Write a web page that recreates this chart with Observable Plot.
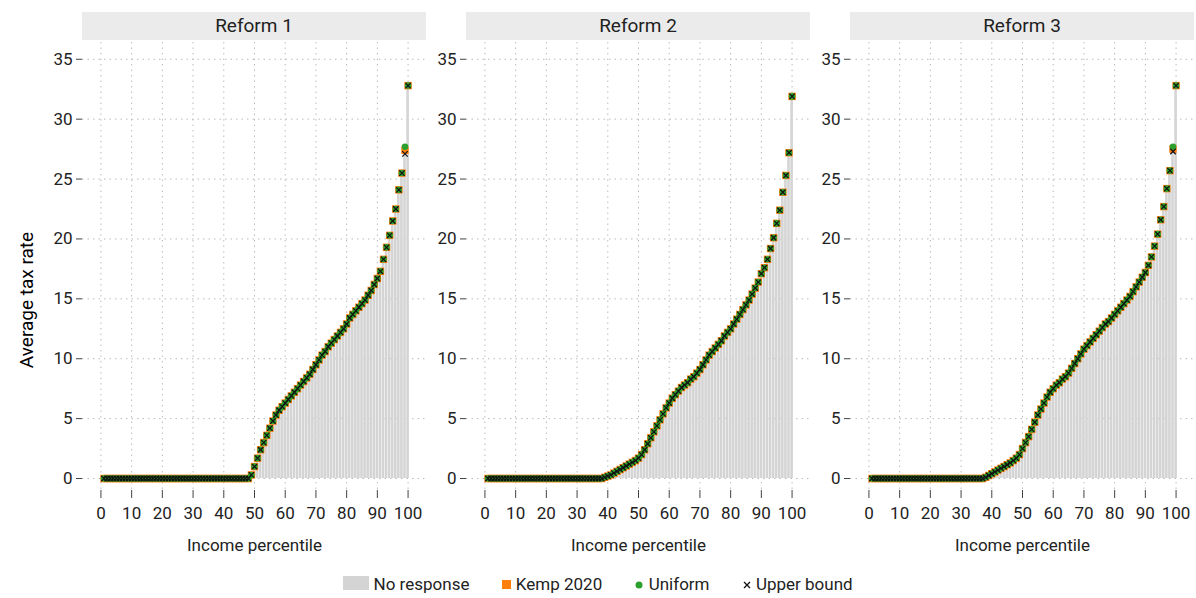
<!DOCTYPE html>
<html><head><meta charset="utf-8">
<script src="https://cdn.jsdelivr.net/npm/d3@7"></script>
<script src="https://cdn.jsdelivr.net/npm/@observablehq/plot@0.6"></script>
<style>
body{margin:0;background:#fff;font-family:"Liberation Sans Narrow","Roboto",sans-serif;}
#wrap{position:relative;width:1196px;height:598px;}
.panel{position:absolute;top:0;}
.head{position:absolute;top:12px;height:28px;background:#ebebeb;font-size:19px;text-align:center;line-height:28px;color:#222;}
#legend{position:absolute;top:574px;left:0;width:1196px;text-align:center;font-size:17px;color:#222;}
#legend span{margin:0 14px;}
.ylab{position:absolute;left:6px;top:300px;transform:translate(0,-50%) rotate(-90deg);transform-origin:center;font-size:19px;}
</style></head>
<body><div id="wrap"></div>
<script>
const reforms = ["Reform 1", "Reform 2", "Reform 3"];
const percentiles = d3.range(1, 101);

// reform 1: zero up to 48
const r1Kemp = [...Array(48).fill(0),
  0.3,1.0,1.7,2.4,3.0,3.6,4.2,4.8,5.3,5.7,6.0,6.3,6.6,6.9,7.2,7.5,7.8,8.1,8.4,8.7,
  9.1,9.5,9.9,10.3,10.6,11.0,11.3,11.6,11.9,12.2,12.5,12.9,13.4,13.7,14.0,14.3,14.6,14.9,15.3,15.7,
  16.2,16.7,17.3,18.3,19.3,20.3,21.5,22.5,24.1,25.5,27.4,32.8];
const r1Uniform = r1Kemp.map((v, i) => i === 98 ? 27.7 : v);
const r1Upper = r1Kemp.map((v, i) => i === 98 ? 27.1 : v);

// reform 2: zero up to 38
const r2Kemp = [...Array(38).fill(0),
  0.1,0.2,0.3,0.45,0.6,0.75,0.9,1.05,1.2,1.35,1.5,1.7,2.0,2.4,2.9,3.4,3.9,4.4,4.9,5.4,
  5.9,6.3,6.7,7.0,7.3,7.6,7.8,8.0,8.3,8.5,8.8,9.1,9.5,9.9,10.3,10.6,10.9,11.2,11.5,11.9,
  12.2,12.5,12.9,13.3,13.7,14.1,14.5,14.9,15.4,15.9,16.4,17.1,17.6,18.3,19.2,20.1,21.3,22.4,23.9,25.3,
  27.2,31.9];
const r2Uniform = r2Kemp;
const r2Upper = r2Kemp;

// reform 3: zero up to 37
const r3Kemp = [...Array(37).fill(0),
  0.1,0.25,0.4,0.55,0.7,0.85,1.0,1.15,1.3,1.5,1.7,2.0,2.5,3.0,3.5,4.1,4.7,5.3,5.8,6.3,
  6.8,7.2,7.5,7.8,8.0,8.3,8.5,8.8,9.2,9.6,10.0,10.4,10.8,11.1,11.4,11.7,12.0,12.3,12.6,12.9,
  13.1,13.4,13.7,14.0,14.3,14.6,14.9,15.2,15.6,16.0,16.4,16.8,17.2,17.8,18.5,19.4,20.4,21.6,22.7,24.2,25.7,27.5,32.8];
const r3Uniform = r3Kemp.map((v, i) => i === 98 ? 27.7 : v);
const r3Upper = r3Kemp.map((v, i) => i === 98 ? 27.3 : v);

const series = [[r1Kemp, r1Uniform, r1Upper], [r2Kemp, r2Uniform, r2Upper], [r3Kemp, r3Uniform, r3Upper]];
const yTicks = [0, 5, 10, 15, 20, 25, 30, 35];
const xTicks = d3.range(0, 101, 10);

const wrap = document.getElementById("wrap");
const lefts = [0, 426, 810];
const margL = [82, 40, 40];

series.forEach(([kemp, uni, upper], k) => {
  const rows = percentiles.map((p, i) => ({p, kemp: kemp[i], uni: uni[i], upper: upper[i]}));
  const w = margL[k] + 344;
  const div = document.createElement("div");
  div.className = "panel";
  div.style.left = lefts[k] + "px";
  div.style.width = w + "px";
  const chart = Plot.plot({
    width: w, height: 560,
    marginLeft: margL[k], marginRight: 0, marginTop: 42, marginBottom: 70,
    style: {fontSize: "17px", fontFamily: "Liberation Sans Narrow, Roboto, sans-serif", color: "#222"},
    x: {domain: [-6, 106], label: null},
    y: {domain: [-1, 36.4], label: null},
    marks: [
      Plot.gridX(xTicks, {stroke: "#bbb", strokeOpacity: 1, strokeDasharray: "1.5,4"}),
      Plot.gridY(yTicks, {stroke: "#bbb", strokeOpacity: 1, strokeDasharray: "1.5,4"}),
      Plot.rectY(rows, {x1: d => d.p - 0.42, x2: d => d.p + 0.42, y: "kemp", fill: "#d4d4d4"}),
      Plot.dot(rows, {x: "p", y: "kemp", symbol: "square", r: 4.2, fill: "#ff7f0e"}),
      Plot.dot(rows, {x: "p", y: "uni", symbol: "circle", r: 3.3, fill: "#2ca02c"}),
      Plot.dot(rows, {x: "p", y: "upper", symbol: "times", r: 2.6, stroke: "#111", strokeWidth: 1.2}),
      Plot.axisX(xTicks, {tickSize: 8, tickPadding: 8, stroke: "#444", fontSize: 17,
        label: "Income percentile", labelAnchor: "center", labelArrow: "none", labelOffset: 60}),
      Plot.axisY(yTicks, {tickSize: 6, stroke: "#444", fontSize: 17, tickPadding: 4, label: null})
    ]
  });
  div.appendChild(chart);
  const head = document.createElement("div");
  head.className = "head";
  head.style.left = margL[k] + "px";
  head.style.width = "344px";
  head.textContent = reforms[k];
  div.appendChild(head);
  wrap.appendChild(div);
});

const yl = document.createElement("div");
yl.className = "ylab";
yl.style.left = "-42px";
yl.textContent = "Average tax rate";
wrap.appendChild(yl);

const lg = document.createElement("div");
lg.id = "legend";
lg.innerHTML = `<span><svg width="26" height="14"><rect width="26" height="14" fill="#d4d4d4"/></svg> No response</span>
<span><svg width="10" height="10"><rect width="9" height="9" fill="#ff7f0e"/></svg> Kemp 2020</span>
<span><svg width="10" height="10"><circle cx="5" cy="5" r="3.5" fill="#2ca02c"/></svg> Uniform</span>
<span><svg width="10" height="10"><path d="M2,2L8,8M8,2L2,8" stroke="#111" stroke-width="1.3"/></svg> Upper bound</span>`;
wrap.appendChild(lg);
</script></body></html>
